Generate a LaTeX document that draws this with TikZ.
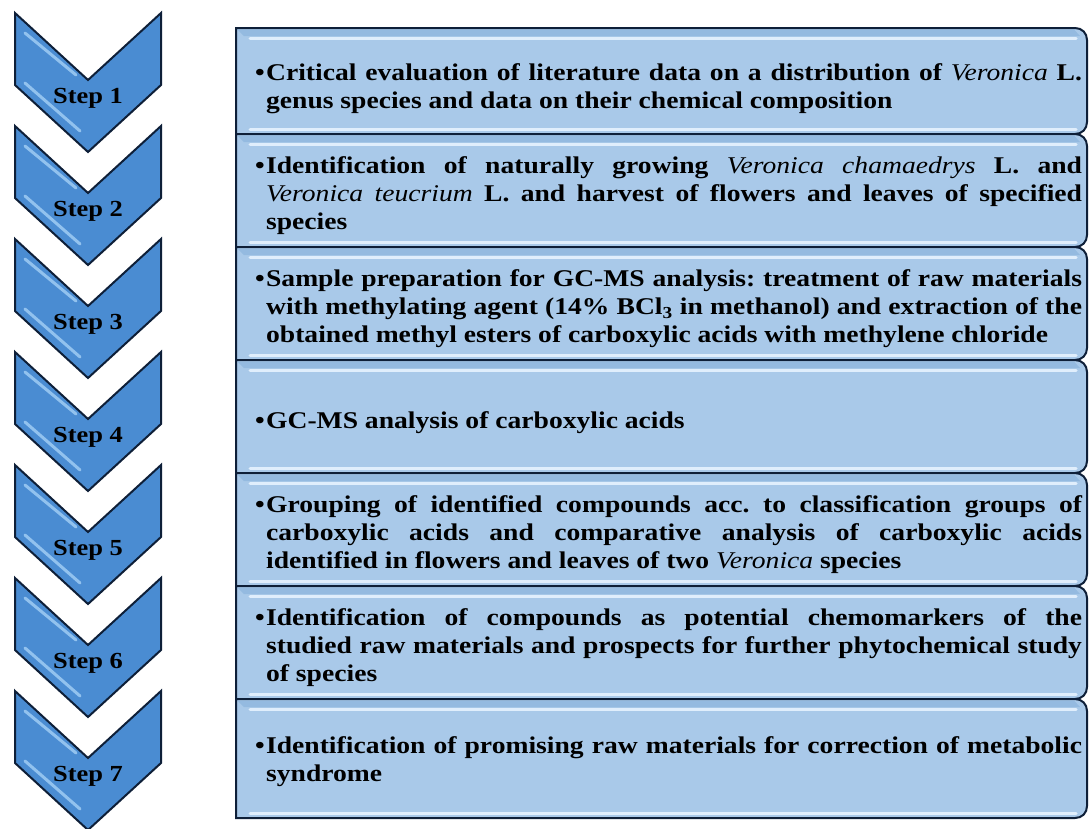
\documentclass[tikz,border=0pt]{standalone}
\usepackage{graphicx}
\usepackage{fontspec}
\setmainfont{Liberation Serif}
\usetikzlibrary{calc}
\definecolor{chev}{HTML}{4A8CD2}
\definecolor{chevlight}{HTML}{A4D0F6}
\definecolor{navy}{HTML}{0E1F38}
\definecolor{boxfill}{HTML}{A9C9E9}
\definecolor{boxband}{HTML}{86B0DA}
\definecolor{boxlight}{HTML}{E6F3FF}
\newcommand{\spn}[1]{{\mdseries\itshape #1}}
\newcommand{\boxtext}[1]{\scalebox{1.15}[1]{\parbox{719pt}{\fontsize{24}{28}\selectfont\bfseries\frenchspacing\hyphenpenalty=10000\tolerance=9999\emergencystretch=20pt\hangindent=9.5pt\hangafter=1\noindent\makebox[9.5pt][l]{\textbullet}#1}}}
\tikzset{
  chevshape/.style={fill=chev, draw=navy, line width=2pt, line join=miter},
  chevhl/.style={draw=chevlight, line width=3pt, line cap=round, opacity=0.8},
  boxshape/.style={fill=boxfill, draw=navy, line width=2pt},
  boxhl/.style={draw=boxlight, line width=3pt, line cap=round, opacity=0.9},
  steplabel/.style={font=\fontsize{23}{26}\selectfont\bfseries, inner sep=0pt, anchor=base, text=black},
  boxlabel/.style={inner sep=0pt, anchor=west, text=black}
}
\begin{document}
\begin{tikzpicture}[x=1pt,y=-1pt]
\useasboundingbox (0,0) rectangle (1089,828);
\fill[white] (0,0) rectangle (1089,828);
% chevrons
\foreach \n in {1,...,7}{
  \pgfmathsetmacro\yo{13+113*(\n-1)}
  \draw[chevshape] (15,\yo) -- (88,{\yo+67}) -- (161,\yo) -- (161,{\yo+72}) -- (88,{\yo+139}) -- (15,{\yo+72}) -- cycle;
  \draw[chevhl] (25,{\yo+20}) -- (76,{\yo+62});
  \draw[chevhl] (25,{\yo+70}) -- (80,{\yo+118});
  \node[steplabel] (s\n) at (88,{\yo+90}) {\scalebox{1.15}[1]{Step \n}};
}
% boxes
\foreach \t/\b in {28/134,134/247,247/360,360/473,473/586,586/699,699/818}{
  \fill[gray!45] (1089,{\t+12}) rectangle (1091,{\b-8});
  \draw[boxshape] (236,\t) -- (1075,\t) .. controls (1082,\t) and (1087,{\t+5}) .. (1087,{\t+12}) -- (1087,{\b-12}) .. controls (1087,{\b-5}) and (1082,\b) .. (1075,\b) -- (236,\b) -- cycle;
  \fill[boxband, opacity=0.6] (237.5,{\t+1.5}) -- (1074,{\t+1.5}) -- (1080,{\t+8}) -- (244,{\t+8}) -- cycle;
  \draw[boxhl] (250,{\t+10}) -- (1076,{\t+10});
  \draw[boxhl] (250,{\b-5}) -- (1076,{\b-5});
}
\node[boxlabel] (t1) at (255,89) {\boxtext{Critical evaluation of literature data on a distribution of \spn{Veronica} L.\linebreak genus species and data on their chemical composition}};
\node[boxlabel] (t2) at (255,196) {\boxtext{Identification of naturally growing \spn{Veronica chamaedrys} L. and\linebreak \spn{Veronica teucrium} L. and harvest of flowers and leaves of specified\linebreak species}};
\node[boxlabel] (t3) at (255,309) {\boxtext{Sample preparation for GC-MS analysis: treatment of raw materials\linebreak with methylating agent (14\% BCl\textsubscript{3} in methanol) and extraction of the\linebreak obtained methyl esters of carboxylic acids with methylene chloride}};
\node[boxlabel] (t4) at (255,423) {\boxtext{GC-MS analysis of carboxylic acids}};
\node[boxlabel] (t5) at (255,535) {\boxtext{Grouping of identified compounds acc. to classification groups of\linebreak carboxylic acids and comparative analysis of carboxylic acids\linebreak identified in flowers and leaves of two \spn{Veronica} species}};
\node[boxlabel] (t6) at (255,648) {\boxtext{Identification of compounds as potential chemomarkers of the\linebreak studied raw materials and prospects for further phytochemical study\linebreak of species}};
\node[boxlabel] (t7) at (255,762) {\boxtext{Identification of promising raw materials for correction of metabolic\linebreak syndrome}};
\end{tikzpicture}
\end{document}
